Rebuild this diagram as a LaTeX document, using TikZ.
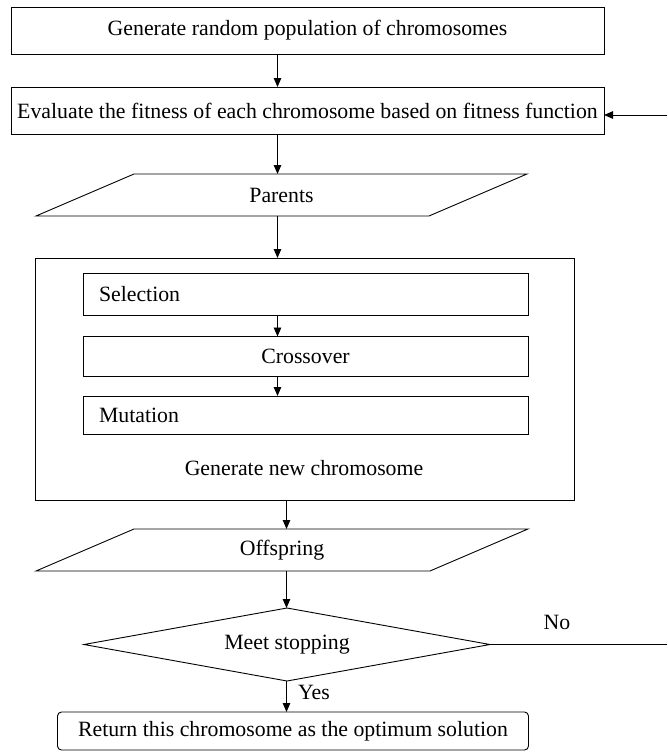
\documentclass[tikz,border=0pt]{standalone}
\usepackage{fontspec}
\setmainfont{Liberation Serif}
\usetikzlibrary{arrows.meta,calc}
\begin{document}
\begin{tikzpicture}[x=1pt,y=-1pt,
  every node/.style={font=\fontsize{21.8}{24}\selectfont, inner sep=0pt, outer sep=0pt},
  box/.style={draw, line width=0.9pt},
  ghost/.style={draw=none},
  conn/.style={line width=0.9pt},
  arr/.style={conn, -{Triangle[length=9pt,width=7.5pt]}},
  shp/.style={line width=0.9pt, line join=miter}
]
\useasboundingbox[fill=white] (0,0) rectangle (667,752);

% axes for connectors
\coordinate (ax) at (277.5,0);
\coordinate (bx) at (286.5,0);

% top boxes
\node[box, minimum width=593pt, minimum height=47pt] (gen) at (307.5,30.5) {Generate random population of chromosomes};
\node[box, minimum width=593pt, minimum height=47pt] (eval) at (307.5,110.5) {Evaluate the fitness of each chromosome based on fitness function};

% parents parallelogram
\node[ghost, minimum width=491pt, minimum height=42pt] (par) at (281.5,195) {Parents};
\draw[shp] ([xshift=98pt]par.north west) -- (par.north east) -- ([xshift=-98pt]par.south east) -- (par.south west) -- cycle;

% big container
\node[box, minimum width=539pt, minimum height=242pt] (big) at (304.5,379) {};
\node[box, minimum height=42pt, text width=413pt, inner xsep=16pt, align=left] (sel) at (305.5,294) {Selection};
\node[box, minimum width=445pt, minimum height=40pt] (cross) at (305.5,356.5) {Crossover};
\node[box, minimum height=38pt, text width=413pt, inner xsep=16pt, align=left] (mut) at (305.5,415) {Mutation};
\node (gnew) at (304,468) {Generate new chromosome};

% offspring parallelogram
\node[ghost, minimum width=492pt, minimum height=42pt] (off) at (282,550) {Offspring};
\draw[shp] ([xshift=98pt]off.north west) -- (off.north east) -- ([xshift=-98pt]off.south east) -- (off.south west) -- cycle;

% decision diamond
\node[ghost, minimum width=406pt, minimum height=73pt] (dia) at (287,644.5) {Meet stopping};
\draw[shp] (dia.west) -- (dia.north) -- (dia.east) -- (dia.south) -- cycle;

% final box
\node[box, rounded corners=4pt, minimum width=471pt, minimum height=38pt] (fin) at (293,731) {Return this chromosome as the optimum solution};

% labels
\node (no) at (557,622) {No};
\node (yes) at (314,692) {Yes};

% loop ends at picture edge
\coordinate (rin) at (667,115);
\coordinate (rout) at (667,644.5);

% connectors
\draw[arr] (gen.south -| ax) -- (eval.north -| ax);
\draw[arr] (eval.south -| ax) -- (par.north -| ax);
\draw[arr] (par.south -| ax) -- (big.north -| ax);
\draw[arr] (sel.south -| ax) -- (cross.north -| ax);
\draw[arr] (cross.south -| ax) -- (mut.north -| ax);
\draw[arr] (big.south -| bx) -- (off.north -| bx);
\draw[arr] (off.south -| bx) -- (dia.north -| bx);
\draw[arr] (dia.south -| bx) -- (fin.north -| bx);
\draw[conn] (dia.east) -- (rout);
\draw[arr] (rin) -- (eval.east |- rin);
\end{tikzpicture}
\end{document}
